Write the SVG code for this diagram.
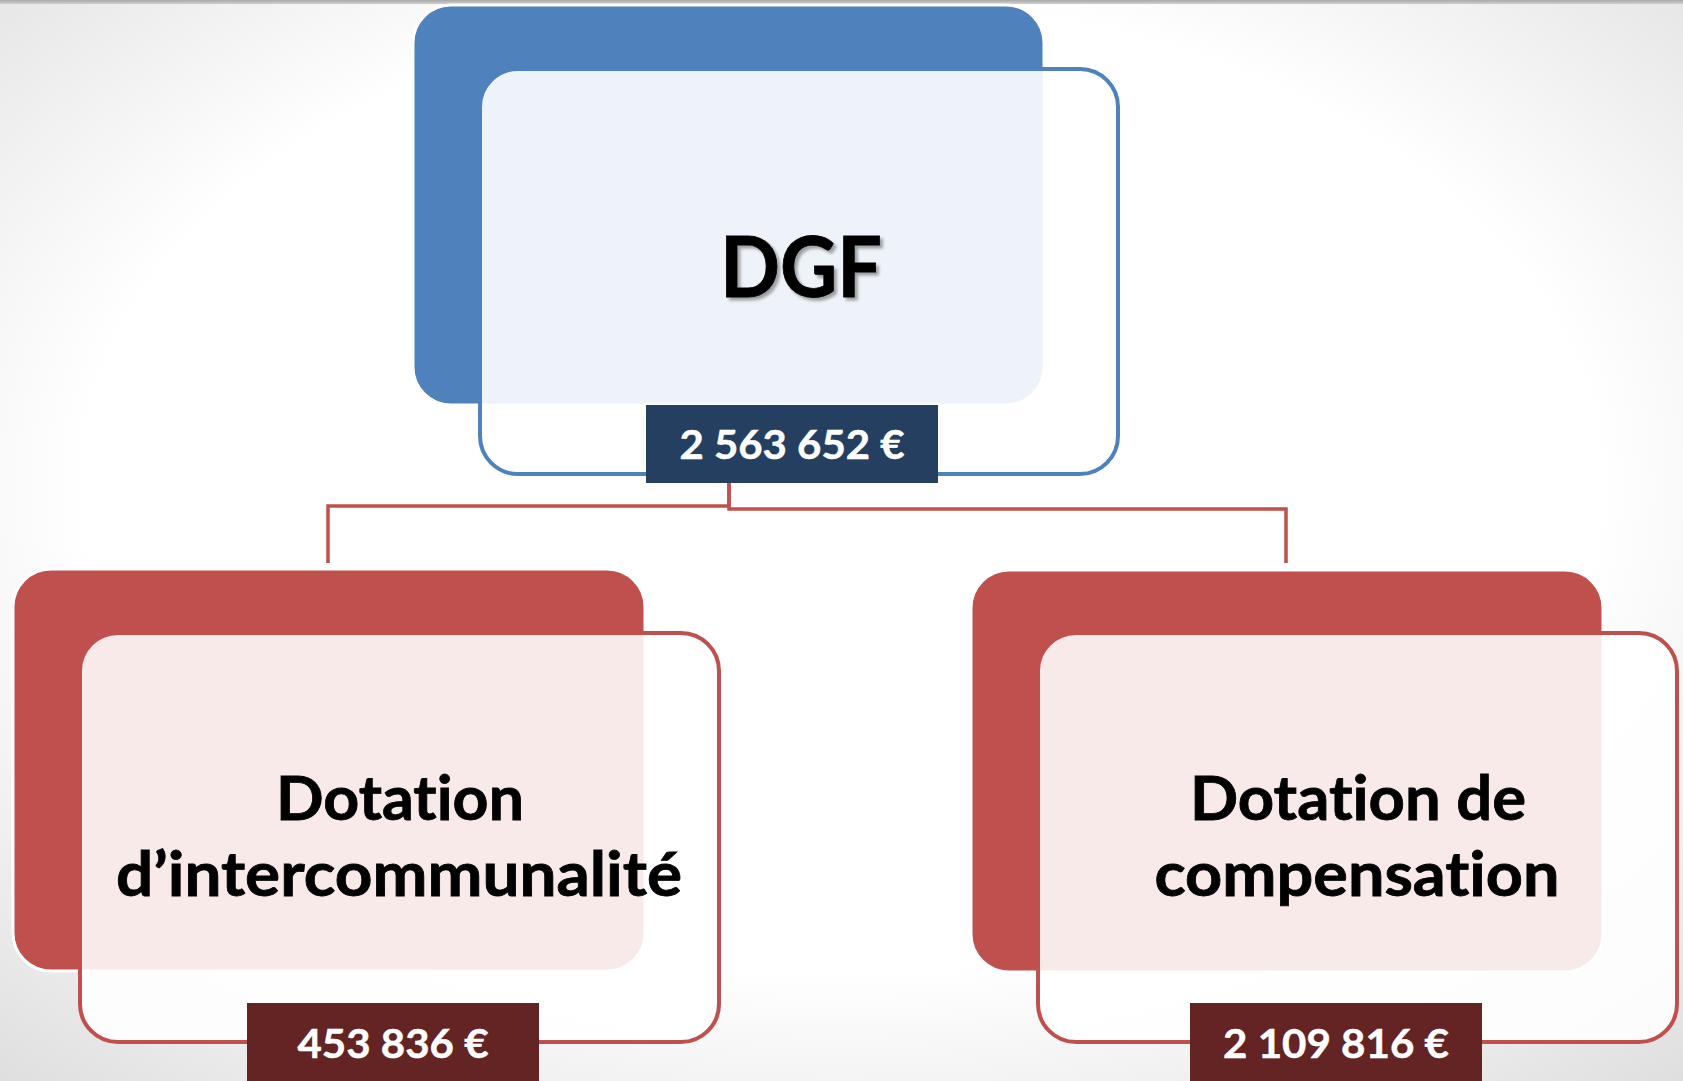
<svg xmlns="http://www.w3.org/2000/svg" width="1683" height="1081" viewBox="0 0 1683 1081">
<defs>
<radialGradient id="bg" cx="0.5" cy="0.45" r="0.75">
<stop offset="0" stop-color="#FFFFFF"/>
<stop offset="0.6" stop-color="#FFFFFF"/>
<stop offset="1" stop-color="#DEDEDE"/>
</radialGradient>
<linearGradient id="topbar" x1="0" y1="0" x2="0" y2="1">
<stop offset="0" stop-color="#A8A8A8"/>
<stop offset="1" stop-color="#D0D0D0"/>
</linearGradient>
<filter id="shadow" x="-20%" y="-20%" width="140%" height="140%">
<feDropShadow dx="3" dy="3" stdDeviation="1.5" flood-color="#000" flood-opacity="0.35"/>
</filter>
</defs>
<style>
.backBlue{fill:#4F81BD;stroke:#FFFFFF;stroke-width:3}
.backRed{fill:#C0504D;stroke:#FFFFFF;stroke-width:3}
.frontBlue{fill:#FFFFFF;fill-opacity:0.9;stroke:#4F81BD;stroke-width:4}
.frontRed{fill:#FFFFFF;fill-opacity:0.88;stroke:#C0504D;stroke-width:4}
.title{font-family:Lato,"Liberation Sans",sans-serif;font-weight:bold;fill:#000000;stroke:#000000;stroke-width:0.8;text-anchor:middle;font-variant-ligatures:none}
.amount{font-family:Lato,"Liberation Sans",sans-serif;font-weight:bold;fill:#FFFFFF;stroke:#FFFFFF;stroke-width:0.5;text-anchor:middle;font-size:41px;font-variant-ligatures:none}
.conn{fill:none;stroke:#C0504D;stroke-width:3.5}
</style>
<rect x="0" y="0" width="1683" height="1081" fill="url(#bg)"/>
<rect x="0" y="0" width="1683" height="4" fill="url(#topbar)"/>

<g id="connectors">
<path class="conn" d="M729,483 V506 H328 V563"/>
<path class="conn" d="M729,483 V509 H1286 V563"/>
</g>

<g id="node-dgf">
<rect class="backBlue" x="413" y="5" width="631" height="400" rx="38" ry="38"/>
<rect class="frontBlue" x="480" y="69" width="638" height="405" rx="38" ry="38"/>
<text class="title" x="801" y="297" font-size="84" textLength="162" lengthAdjust="spacingAndGlyphs" filter="url(#shadow)">DGF</text>
<rect x="646" y="405" width="292" height="78" fill="#253F61"/>
<text class="amount" x="792" y="459" textLength="225" lengthAdjust="spacingAndGlyphs">2 563 652 €</text>
</g>

<g id="node-intercommunalite">
<rect class="backRed" x="13" y="569" width="632" height="402" rx="38" ry="38"/>
<rect class="frontRed" x="80" y="633" width="639" height="409" rx="38" ry="38"/>
<text class="title" x="400" y="820" font-size="61" textLength="248" lengthAdjust="spacingAndGlyphs">Dotation</text>
<text class="title" x="399" y="896" font-size="61" textLength="566" lengthAdjust="spacingAndGlyphs">d’intercommunalité</text>
<rect x="247" y="1003" width="292" height="78" fill="#632423"/>
<text class="amount" x="393" y="1058" textLength="191" lengthAdjust="spacingAndGlyphs">453 836 €</text>
</g>

<g id="node-compensation">
<rect class="backRed" x="971" y="570" width="632" height="402" rx="38" ry="38"/>
<rect class="frontRed" x="1038" y="633" width="639" height="409" rx="38" ry="38"/>
<text class="title" x="1358" y="820" font-size="61" textLength="336" lengthAdjust="spacingAndGlyphs">Dotation de</text>
<text class="title" x="1357" y="896" font-size="61" textLength="405" lengthAdjust="spacingAndGlyphs">compensation</text>
<rect x="1190" y="1003" width="292" height="78" fill="#632423"/>
<text class="amount" x="1336" y="1058" textLength="226" lengthAdjust="spacingAndGlyphs">2 109 816 €</text>
</g>
</svg>
